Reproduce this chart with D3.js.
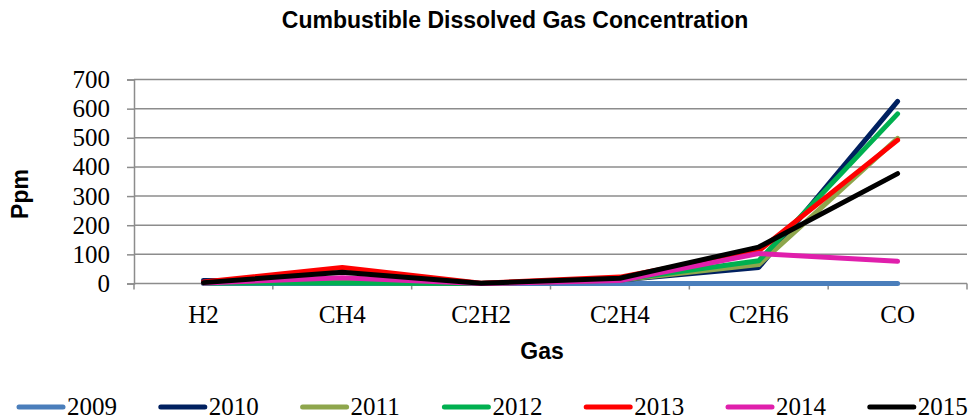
<!DOCTYPE html>
<html>
<head>
<meta charset="utf-8">
<script src="https://cdn.jsdelivr.net/npm/d3@7"></script>
<style>
  body { margin: 0; background: #fff; }
  svg { display: block; }
</style>
</head>
<body>
<svg width="970" height="419"></svg>
<script>
// gases on the x axis
var gases = ["H2", "CH4", "C2H2", "C2H4", "C2H6", "CO"];
var years = ["2009", "2010", "2011", "2012", "2013", "2014", "2015"];
var yTicks = [0, 100, 200, 300, 400, 500, 600, 700];

// ppm per gas, one array per year
var v2009 = [0, 0, 0, 0, 0, 0];
var v2010 = [10, 6, 0, 12, 55, 625];
var v2011 = [3, 4, 0, 12, 65, 498];
var v2012 = [2, 2, 0, 13, 78, 582];
var v2013 = [5, 55, 1, 22, 112, 492];
var v2014 = [2, 20, 0, 10, 103, 76];
var v2015 = [3, 39, 1, 18, 125, 377];

var colors = ["#4a7ebb", "#002060", "#8ea64c", "#00b050", "#ff0000", "#e01fac", "#000000"];
var series = [v2009, v2010, v2011, v2012, v2013, v2014, v2015];

var svg = d3.select("svg"),
	width = +svg.attr("width"),
	height = +svg.attr("height");

// plot area (note: "top" is taken by window.top)
var plotLeft = 134, plotRight = 967, plotTop = 79.5, plotBottom = 283.5;

var x = d3.scaleBand().domain(gases).range([plotLeft, plotRight]);
var y = d3.scaleLinear().domain([0, 700]).range([plotBottom, plotTop]);

// Title
svg.append("text")
	.attr("x", 515).attr("y", 28)
	.attr("text-anchor", "middle")
	.style("font-family", "Liberation Sans, Arial, sans-serif")
	.style("font-weight", "bold")
	.style("font-size", "23px")
	.text("Cumbustible Dissolved Gas Concentration");

// Gridlines
svg.append("g")
	.selectAll("line")
	.data(yTicks.slice(1))
	.enter().append("line")
	.attr("x1", plotLeft).attr("x2", plotRight)
	.attr("y1", (d) => y(d)).attr("y2", (d) => y(d))
	.attr("stroke", "#8c8c8c")
	.attr("stroke-width", 1.5);

// Y axis
var yAxis = svg.append("g")
	.attr("transform", "translate(" + plotLeft + ",0)")
	.call(d3.axisLeft(y).tickValues(yTicks).tickSize(7).tickPadding(17));
yAxis.select(".domain").attr("stroke", "#8c8c8c").attr("stroke-width", 1.5);
yAxis.selectAll(".tick line").attr("stroke", "#8c8c8c").attr("stroke-width", 1.5);
yAxis.selectAll("text")
	.style("font-family", "Liberation Serif, Times New Roman, serif")
	.style("font-size", "25px")
	.attr("fill", "#000");

// X axis (ticks at category boundaries)
svg.append("line")
	.attr("x1", plotLeft).attr("x2", plotRight)
	.attr("y1", plotBottom).attr("y2", plotBottom)
	.attr("stroke", "#8c8c8c").attr("stroke-width", 1.5);

var bounds = gases.map((d) => x(d)).concat([plotRight]);
svg.append("g")
	.selectAll("line")
	.data(bounds)
	.enter().append("line")
	.attr("x1", (d) => d).attr("x2", (d) => d)
	.attr("y1", plotBottom).attr("y2", plotBottom + 6)
	.attr("stroke", "#8c8c8c").attr("stroke-width", 1.5);

svg.append("g")
	.selectAll("text")
	.data(gases)
	.enter().append("text")
	.attr("x", (d) => x(d) + x.bandwidth() / 2)
	.attr("y", 323)
	.attr("text-anchor", "middle")
	.style("font-family", "Liberation Serif, Times New Roman, serif")
	.style("font-size", "25px")
	.text((d) => d);

// Axis titles
svg.append("text")
	.attr("x", 542).attr("y", 359)
	.attr("text-anchor", "middle")
	.style("font-family", "Liberation Sans, Arial, sans-serif")
	.style("font-weight", "bold")
	.style("font-size", "23px")
	.text("Gas");

svg.append("text")
	.attr("transform", "translate(28,194) rotate(-90)")
	.attr("text-anchor", "middle")
	.style("font-family", "Liberation Sans, Arial, sans-serif")
	.style("font-weight", "bold")
	.style("font-size", "23px")
	.text("Ppm");

// Lines
var line = d3.line()
	.x((d, i) => x(gases[i]) + x.bandwidth() / 2)
	.y((d) => y(d));

svg.append("g")
	.selectAll("path")
	.data(series)
	.enter().append("path")
	.attr("d", line)
	.attr("fill", "none")
	.attr("stroke", (d, i) => colors[i])
	.attr("stroke-width", 5)
	.attr("stroke-linecap", "round")
	.attr("stroke-linejoin", "round");

// Legend
var legend = svg.append("g")
	.selectAll("g")
	.data(years)
	.enter().append("g")
	.attr("transform", (d, i) => "translate(" + (17 + i * 141.8) + ",407)");

legend.append("line")
	.attr("x1", 2).attr("x2", 46)
	.attr("y1", 0).attr("y2", 0)
	.attr("stroke", (d, i) => colors[i])
	.attr("stroke-width", 5)
	.attr("stroke-linecap", "round");

legend.append("text")
	.attr("x", 50).attr("y", 8)
	.style("font-family", "Liberation Serif, Times New Roman, serif")
	.style("font-size", "25px")
	.text((d) => d);
</script>
</body>
</html>
